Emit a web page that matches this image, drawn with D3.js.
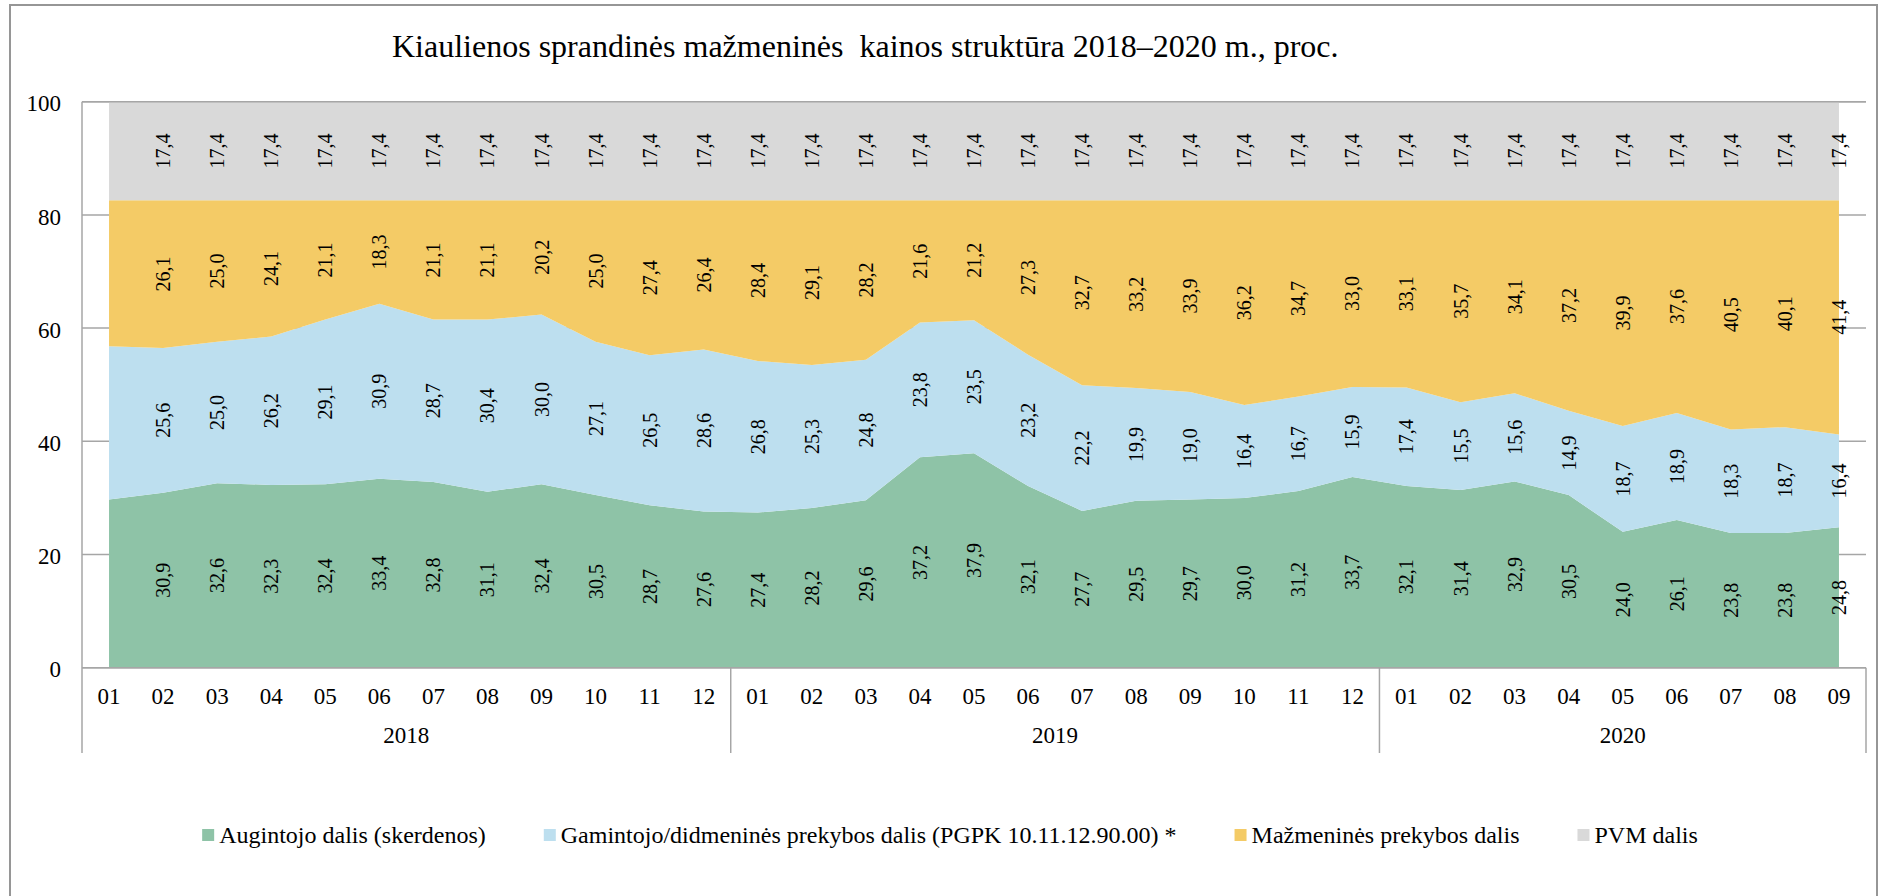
<!DOCTYPE html>
<html>
<head>
<meta charset="utf-8">
<script src="https://cdn.jsdelivr.net/npm/d3@7/dist/d3.min.js"></script>
<style>
	body { margin: 0; background: #fff; }
	text { font-family: "Liberation Serif", "Times New Roman", serif; fill: #000; }
</style>
</head>
<body>
<script>
// chart data (first month has no labels in the original)
const years = ["2018", "2019", "2020"];
const monthsPerYear = [12, 12, 9];
const seriesNames = [
	"Augintojo dalis (skerdenos)",
	"Gamintojo/didmeninės prekybos dalis (PGPK 10.11.12.90.00) *",
	"Mažmeninės prekybos dalis",
	"PVM dalis"
];
const seriesColors = ["#8ec3a7", "#bddfef", "#f4cb66", "#d9d9d9"];
const augintojo = [
	29.7, 30.9, 32.6, 32.3, 32.4, 33.4, 32.8, 31.1, 32.4, 30.5, 28.7, 27.6,
	27.4, 28.2, 29.6, 37.2, 37.9, 32.1, 27.7, 29.5, 29.7, 30.0, 31.2, 33.7,
	32.1, 31.4, 32.9, 30.5, 24.0, 26.1, 23.8, 23.8, 24.8
];
const gamintojo = [
	27.1, 25.6, 25.0, 26.2, 29.1, 30.9, 28.7, 30.4, 30.0, 27.1, 26.5, 28.6,
	26.8, 25.3, 24.8, 23.8, 23.5, 23.2, 22.2, 19.9, 19.0, 16.4, 16.7, 15.9,
	17.4, 15.5, 15.6, 14.9, 18.7, 18.9, 18.3, 18.7, 16.4
];
const mazmenines = [
	25.8, 26.1, 25.0, 24.1, 21.1, 18.3, 21.1, 21.1, 20.2, 25.0, 27.4, 26.4,
	28.4, 29.1, 28.2, 21.6, 21.2, 27.3, 32.7, 33.2, 33.9, 36.2, 34.7, 33.0,
	33.1, 35.7, 34.1, 37.2, 39.9, 37.6, 40.5, 40.1, 41.4
];
const pvm = [
	17.4, 17.4, 17.4, 17.4, 17.4, 17.4, 17.4, 17.4, 17.4, 17.4, 17.4, 17.4,
	17.4, 17.4, 17.4, 17.4, 17.4, 17.4, 17.4, 17.4, 17.4, 17.4, 17.4, 17.4,
	17.4, 17.4, 17.4, 17.4, 17.4, 17.4, 17.4, 17.4, 17.4
];
const unlabeled = ["2018-01"];
const yTicks = [0, 20, 40, 60, 80, 100];
const title = "Kiaulienos sprandinės mažmeninės  kainos struktūra 2018–2020 m., proc.";

const width = 1885;
const height = 896;
const plotLeft = 82, plotRight = 1866, plotTop = 101.7, plotBottom = 667.7;
const axisBottomEdge = 753;
const fmt = v => d3.format(".1f")(v).replace(".", ",");

// category keys like "2018-01"
const keys = [];
years.forEach((yr, i) => {
	d3.range(1, monthsPerYear[i] + 1).forEach(m => keys.push(yr + "-" + String(m).padStart(2, "0")));
});

const rows = keys.map((k, i) => ({
	key: k,
	s0: augintojo[i], s1: gamintojo[i], s2: mazmenines[i], s3: pvm[i]
}));

const stacked = d3.stack().keys(["s0", "s1", "s2", "s3"])(rows);

const x = d3.scaleBand().domain(keys).range([plotLeft, plotRight]);
const cx = k => x(k) + x.bandwidth() / 2;
const y = d3.scaleLinear().domain([0, 100]).range([plotBottom, plotTop]);

const svg = d3.select("body").append("svg")
	.attr("width", width)
	.attr("height", height);

// outer frame
svg.append("rect")
	.attr("x", 10).attr("y", 5)
	.attr("width", 1867).attr("height", 905)
	.attr("fill", "#fff")
	.attr("stroke", "#969696")
	.attr("stroke-width", 2);

svg.append("text")
	.attr("x", 392).attr("y", 57)
	.style("font-size", "32px")
	.style("white-space", "pre")
	.text(title);

// gridlines sit under the areas
svg.append("g").selectAll("line")
	.data(yTicks)
	.join("line")
	.attr("x1", plotLeft).attr("x2", plotRight)
	.attr("y1", d => y(d)).attr("y2", d => y(d))
	.attr("stroke", "#a6a6a6")
	.attr("stroke-width", 1.5);

const area = d3.area()
	.x(d => cx(d.data.key))
	.y0(d => y(d[0]))
	.y1(d => y(d[1]));

svg.append("g").selectAll("path")
	.data(stacked)
	.join("path")
	.attr("fill", (d, i) => seriesColors[i])
	.attr("d", area);

// top gridline and base line drawn over the fill
svg.append("line")
	.attr("x1", plotLeft).attr("x2", plotRight)
	.attr("y1", y(100)).attr("y2", y(100))
	.attr("stroke", "#a6a6a6").attr("stroke-width", 1.5);
svg.append("line")
	.attr("x1", plotLeft).attr("x2", plotRight)
	.attr("y1", y(0)).attr("y2", y(0))
	.attr("stroke", "#a6a6a6").attr("stroke-width", 1.5);

// value labels, rotated, centred in each band
const labelG = svg.append("g");
stacked.forEach(layer => {
	labelG.selectAll(null)
		.data(layer.filter(d => !unlabeled.includes(d.data.key)))
		.join("text")
		.attr("transform", d => `translate(${cx(d.data.key)},${y((d[0] + d[1]) / 2)}) rotate(-90)`)
		.attr("text-anchor", "middle")
		.attr("dy", "0.35em")
		.style("font-size", "20px")
		.text(d => fmt(d[1] - d[0]));
});

// y axis
const yAxis = svg.append("g")
	.attr("transform", `translate(${plotLeft},0)`)
	.call(d3.axisLeft(y).tickValues(yTicks).tickSize(0).tickPadding(21));
yAxis.select(".domain").remove();
yAxis.selectAll("text")
	.attr("dy", "0.4em")
	.style("font-size", "23px")
	.style("font-family", "Liberation Serif");

svg.append("line")
	.attr("x1", plotLeft).attr("x2", plotLeft)
	.attr("y1", plotTop).attr("y2", axisBottomEdge)
	.attr("stroke", "#a6a6a6").attr("stroke-width", 1.5);

// x axis: months
const xAxis = svg.append("g")
	.attr("transform", `translate(0,${plotBottom})`)
	.call(d3.axisBottom(x).tickSize(0).tickFormat(k => k.slice(5)));
xAxis.select(".domain").remove();
xAxis.selectAll("text")
	.attr("y", 36)
	.attr("dy", null)
	.style("font-size", "23px")
	.style("font-family", "Liberation Serif");

// year groups and separators
let start = 0;
const yearSpans = years.map((yr, i) => {
	const span = { year: yr, first: keys[start], last: keys[start + monthsPerYear[i] - 1] };
	start += monthsPerYear[i];
	return span;
});

svg.append("g").selectAll("line")
	.data(yearSpans)
	.join("line")
	.attr("x1", d => x(d.last) + x.bandwidth())
	.attr("x2", d => x(d.last) + x.bandwidth())
	.attr("y1", plotBottom).attr("y2", axisBottomEdge)
	.attr("stroke", "#a6a6a6").attr("stroke-width", 1.5);

svg.append("g").selectAll("text")
	.data(yearSpans)
	.join("text")
	.attr("x", d => (x(d.first) + x(d.last) + x.bandwidth()) / 2)
	.attr("y", 743)
	.attr("text-anchor", "middle")
	.style("font-size", "23px")
	.text(d => d.year);

// legend, laid out left to right and centred
const legend = svg.append("g");
let lx = 0;
seriesNames.forEach((name, i) => {
	const item = legend.append("g").attr("transform", `translate(${lx},0)`);
	item.append("rect")
		.attr("x", 0).attr("y", -6)
		.attr("width", 12).attr("height", 12)
		.attr("fill", seriesColors[i]);
	const t = item.append("text")
		.attr("x", 17).attr("y", 8)
		.style("font-size", "24px")
		.text(name);
	lx += 17 + t.node().getComputedTextLength() + 58;
});
const legendWidth = lx - 58;
legend.attr("transform", `translate(${950 - legendWidth / 2},835)`);
</script>
</body>
</html>
